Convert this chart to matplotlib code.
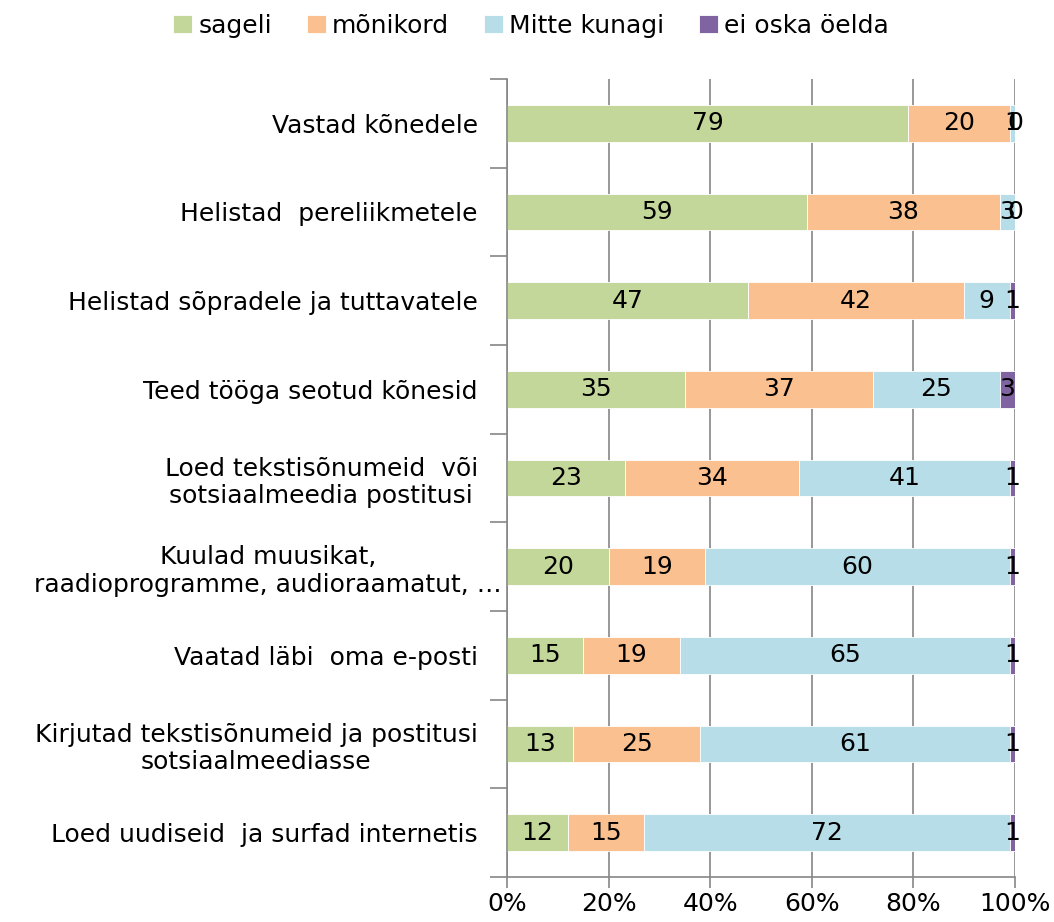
import matplotlib
matplotlib.use("Agg")
import matplotlib.pyplot as plt
import matplotlib.transforms as mtransforms
import numpy as np

categories = [
    "Vastad kõnedele",
    "Helistad  pereliikmetele",
    "Helistad sõpradele ja tuttavatele",
    "Teed tööga seotud kõnesid",
    "Loed tekstisõnumeid  või\nsotsiaalmeedia postitusi",
    "Kuulad muusikat,\nraadioprogramme, audioraamatut, …",
    "Vaatad läbi  oma e-posti",
    "Kirjutad tekstisõnumeid ja postitusi\nsotsiaalmeediasse",
    "Loed uudiseid  ja surfad internetis",
]
series_names = ["sageli", "mõnikord", "Mitte kunagi", "ei oska öelda"]
sageli = [79, 59, 47, 35, 23, 20, 15, 13, 12]
monikord = [20, 38, 42, 37, 34, 19, 19, 25, 15]
mitte = [1, 3, 9, 25, 41, 60, 65, 61, 72]
ei_oska = [0, 0, 1, 3, 1, 1, 1, 1, 1]
colors = ["#C4D79B", "#FAC090", "#B7DEE8", "#8064A2"]
xtick_labels = ["0%", "20%", "40%", "60%", "80%", "100%"]

plt.rcParams['font.family'] = ['DejaVu Sans']
FS = 18
fig = plt.figure(figsize=(10.54, 9.22), dpi=100)
ax = fig.add_axes([507/1054, 45/922, 508/1054, 798/922])

data = np.array([sageli, monikord, mitte, ei_oska], dtype=float)
totals = data.sum(axis=0)
frac = data / totals
y = np.arange(len(categories))
left = np.zeros(len(categories))
gridc = "#868686"
ax.set_axisbelow(True)
for i, name in enumerate(series_names):
    ax.barh(y, frac[i], left=left, height=0.41, color=colors[i], label=name,
            edgecolor="white", linewidth=0.6, zorder=2)
    for j in range(len(categories)):
        ax.text(left[j] + frac[i][j] / 2, y[j], f"{int(data[i][j])}",
                ha="center", va="center", fontsize=FS, color="black", zorder=3)
    left += frac[i]

ax.set_ylim(len(categories) - 0.5, -0.5)
ax.set_xlim(0, 1)
ax.set_yticks(y)
ax.set_yticklabels(categories, fontsize=FS, multialignment="center")
ax.tick_params(axis="y", length=0, pad=21)
ax.set_yticks(np.arange(-0.5, len(categories)), minor=True)
ax.tick_params(axis="y", which="minor", length=12, color=gridc, width=1.2)
ax.set_xticks(np.linspace(0, 1, 6))
ax.set_xticklabels(xtick_labels, fontsize=FS)
ax.tick_params(axis="x", length=8, color=gridc, width=1.2, pad=3)
ax.grid(axis="x", color=gridc, linewidth=1.2, zorder=0)
for s in ["top", "right"]:
    ax.spines[s].set_visible(False)
for s in ["left", "bottom"]:
    ax.spines[s].set_color(gridc)
    ax.spines[s].set_linewidth(1.2)

# the long truncated label overflows closer to the axis
lbl = ax.get_yticklabels()[5]
lbl.set_transform(lbl.get_transform() + mtransforms.ScaledTranslation(24/100, 0, fig.dpi_scale_trans))

fig.legend(loc="center", bbox_to_anchor=(531/1054, 1 - 26/922), ncol=4,
           frameon=False, fontsize=FS, handlelength=0.75, handleheight=0.75,
           handletextpad=0.25, columnspacing=1.4, borderaxespad=0)

fig.savefig("out.png", dpi=100)
